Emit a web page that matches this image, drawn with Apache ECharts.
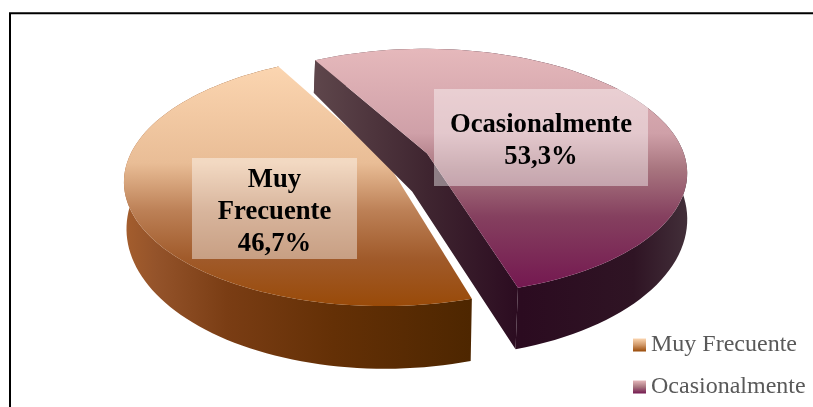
<!DOCTYPE html>
<html><head><meta charset="utf-8">
<style>html,body{margin:0;padding:0;background:#fff}#c{width:813px;height:407px}</style>
<script src="https://cdn.jsdelivr.net/npm/echarts@6/dist/echarts.min.js"></script>
</head><body><div id="c"></div>
<script>
const categories = ['Muy Frecuente', 'Ocasionalmente'];
const values = [46.7, 53.3];
const labelLines = [['Muy', 'Frecuente', '46,7%'], ['Ocasionalmente', '53,3%']];

const TOP = {cx: 407, cy: 157.5, R: 258, A: 121.5, q: 0.15};
const LOW = {cx: 408, cy: 206, R: 258, A: 138, q: 0.12};
const LOW_APEX_SHIFT = [-16, -10];
const EXPLODE = 0.085, FIRST = 73;
const total = values.reduce((a, b) => a + b, 0);

function grad(x, y, x2, y2, stops) {
  return {type: 'linear', global: true, x, y, x2, y2,
    colorStops: stops.map(s => ({offset: s[0], color: s[1]}))};
}
const topFill = [
  grad(0, 67, 0, 307, [[0,'#FBD5B0'],[0.4,'#E9BD96'],[0.6,'#BC8056'],[0.8,'#A05A2A'],[1,'#994A08']]),
  grad(0, 50, 0, 288, [[0,'#E5B8BB'],[0.35,'#CFA0A8'],[0.5,'#A8757F'],[0.7,'#85405F'],[1,'#741850']])
];
const wallFill = [
  grad(121, 0, 474, 0, [[0,'#A65F2E'],[0.1,'#94532A'],[0.3,'#7A3D14'],[0.6,'#643006'],[1,'#4D2600']]),
  grad(315, 0, 690, 0, [[0,'#5E464B'],[0.3,'#3F2530'],[0.55,'#2B0B20'],[0.85,'#2F1424'],[1,'#43303A']])
];
const labelBox = [[192, 158, 165, 101], [434, 89, 214, 97]];

function proj(m, X, Y) {
  const w = 1 - m.q * Y;
  return [m.cx + m.R * X / w, m.cy + m.A * Y / w];
}
function sliceParts(idx, val) {
  const before = values.slice(0, idx).reduce((a, b) => a + b, 0);
  const a0 = FIRST + before / total * 360, a1 = a0 + val / total * 360;
  const mid = (a0 + a1) / 2 * Math.PI / 180;
  const ox = EXPLODE * Math.cos(mid), oy = EXPLODE * Math.sin(mid);
  const arc = m => {
    const p = [];
    for (let a = a0; a <= a1 + 1e-6; a += (a1 - a0) / 90) {
      const r = a * Math.PI / 180;
      p.push(proj(m, ox + Math.cos(r), oy + Math.sin(r)));
    }
    return p;
  };
  const apex = m => proj(m, ox, oy);
  return {arc, apex};
}
function renderSlice(idx) {
  return function (params, api) {
    const s = sliceParts(idx, api.value(0));
    const up = s.arc(TOP), lo = s.arc(LOW);
    const aU = s.apex(TOP), a = s.apex(LOW);
    const aL = [a[0] + LOW_APEX_SHIFT[0], a[1] + LOW_APEX_SHIFT[1]];
    const children = [];
    const poly = (points, fill) => children.push({type: 'polygon', shape: {points}, style: {fill}, silent: true});
    poly(up.concat(lo.slice().reverse()), wallFill[idx]);
    if (idx === 1) {
      poly([up[up.length - 1], aU, up[0], lo[0], aL, lo[lo.length - 1]], wallFill[idx]);
    }
    poly([aU].concat(up), topFill[idx]);
    const b = labelBox[idx];
    children.push({type: 'rect', shape: {x: b[0], y: b[1], width: b[2], height: b[3]},
      style: {fill: 'rgba(255,255,255,0.42)'}, silent: true});
    children.push({type: 'text', silent: true, style: {
      x: b[0] + b[2] / 2, y: b[1] + b[3] / 2 + 3.5, text: labelLines[idx].join('\n'),
      align: 'center', verticalAlign: 'middle', fill: '#000',
      font: 'bold 26.67px "Liberation Serif"', lineHeight: 32}});
    return {type: 'group', children};
  };
}
const legendFill = [
  {type:'linear',x:0,y:0,x2:0,y2:1,colorStops:[{offset:0,color:'#FBD5B0'},{offset:0.5,color:'#D09868'},{offset:1,color:'#994A08'}]},
  {type:'linear',x:0,y:0,x2:0,y2:1,colorStops:[{offset:0,color:'#E5B8BB'},{offset:0.5,color:'#A8757F'},{offset:1,color:'#741850'}]}
];
const chart = echarts.init(document.getElementById('c'), null, {renderer: 'canvas'});
chart.setOption({
  animation: false,
  backgroundColor: '#fff',
  legend: {
    orient: 'vertical', left: 633, top: 331, itemWidth: 13, itemHeight: 13, itemGap: 14, icon: 'rect',
    selectedMode: false, padding: 0,
    textStyle: {fontFamily: 'Liberation Serif', fontSize: 24, lineHeight: 24, color: '#595959', padding: [4, 0, 0, 0]},
    data: categories.map((n, i) => ({name: n, itemStyle: {color: legendFill[i]}}))
  },
  graphic: [{type: 'rect', shape: {x: 10, y: 13.3, width: 900, height: 500}, style: {fill: 'none', stroke: '#000', lineWidth: 2}, silent: true}],
  series: categories.map((n, i) => ({
    type: 'custom', name: n, coordinateSystem: 'none', renderItem: renderSlice(i),
    itemStyle: {color: legendFill[i]}, data: [[values[i]]], z: 2 + i
  }))
});
</script></body></html>
